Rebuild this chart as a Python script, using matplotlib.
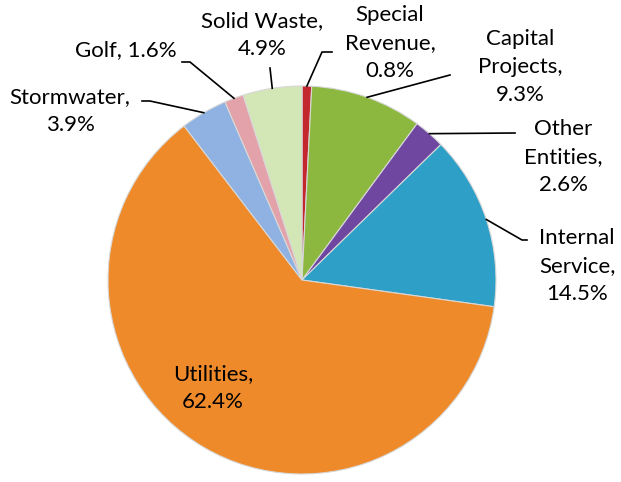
import numpy as np
import matplotlib.pyplot as plt

# data
categories = ['Special\nRevenue', 'Capital\nProjects', 'Other\nEntities', 'Internal\nService',
              'Utilities', 'Stormwater', 'Golf', 'Solid Waste']
shares = [0.8, 9.3, 2.6, 14.5, 62.4, 3.9, 1.6, 4.9]
colors = ['#C2282E', '#8DB840', '#7047A0', '#2E9FC6', '#EE8A2A', '#8FB2E2', '#E3A2AA', '#D3E6B6']

W, H = 621, 482
fig = plt.figure(figsize=(W / 100, H / 100), dpi=100)
ax = fig.add_axes([0, 0, 1, 1])

cx, cy, r = 302, H - 280, 194
wedges, _ = ax.pie(shares, colors=colors, startangle=90, counterclock=False,
                   center=(cx, cy), radius=r, frame=True,
                   wedgeprops=dict(edgecolor='#d8d8d8', linewidth=0.8))
ax.set_xlim(0, W)
ax.set_ylim(0, H)
ax.set_aspect('equal')
ax.axis('off')

def label_text(i):
    name = categories[i]
    return f"{name},\n{shares[i]}%" if i != 6 else f"{name}, {shares[i]}%"

# label layout: text centre and elbow point, pixels from top-left
layout = {
    0: (390, 43, (322, 52)),
    1: (520, 67, (450, 75)),
    2: (563, 157, (515, 133)),
    3: (577, 266, (522, 240)),
    4: (213, 388, None),
    5: (70, 111, (150, 101)),
    6: (126, 50, (190, 62)),
    7: (262, 35, (270, 68)),
}

for i, w in enumerate(wedges):
    tx, ty, elbow = layout[i]
    ax.text(tx, H - ty, label_text(i), ha='center', va='center', fontsize=16,
            family='Lato', linespacing=1.5, color='black')
    if elbow is None:
        continue
    ang = np.deg2rad((w.theta1 + w.theta2) / 2)
    px = cx + r * np.cos(ang)
    py = cy + r * np.sin(ang)
    ex, ey = elbow
    if i in (0, 5, 6):
        hx = ex + 10 if i == 0 else ex - 8
        ax.plot([hx, ex, px], [H - ey, H - ey, py], color='black', lw=1.2)
    elif i == 3:
        ax.plot([ex + 5, ex, px], [H - ey, H - ey, py], color='black', lw=1.2)
    else:
        ax.plot([ex, px], [H - ey, py], color='black', lw=1.2)

fig.savefig('out.png', dpi=100)
